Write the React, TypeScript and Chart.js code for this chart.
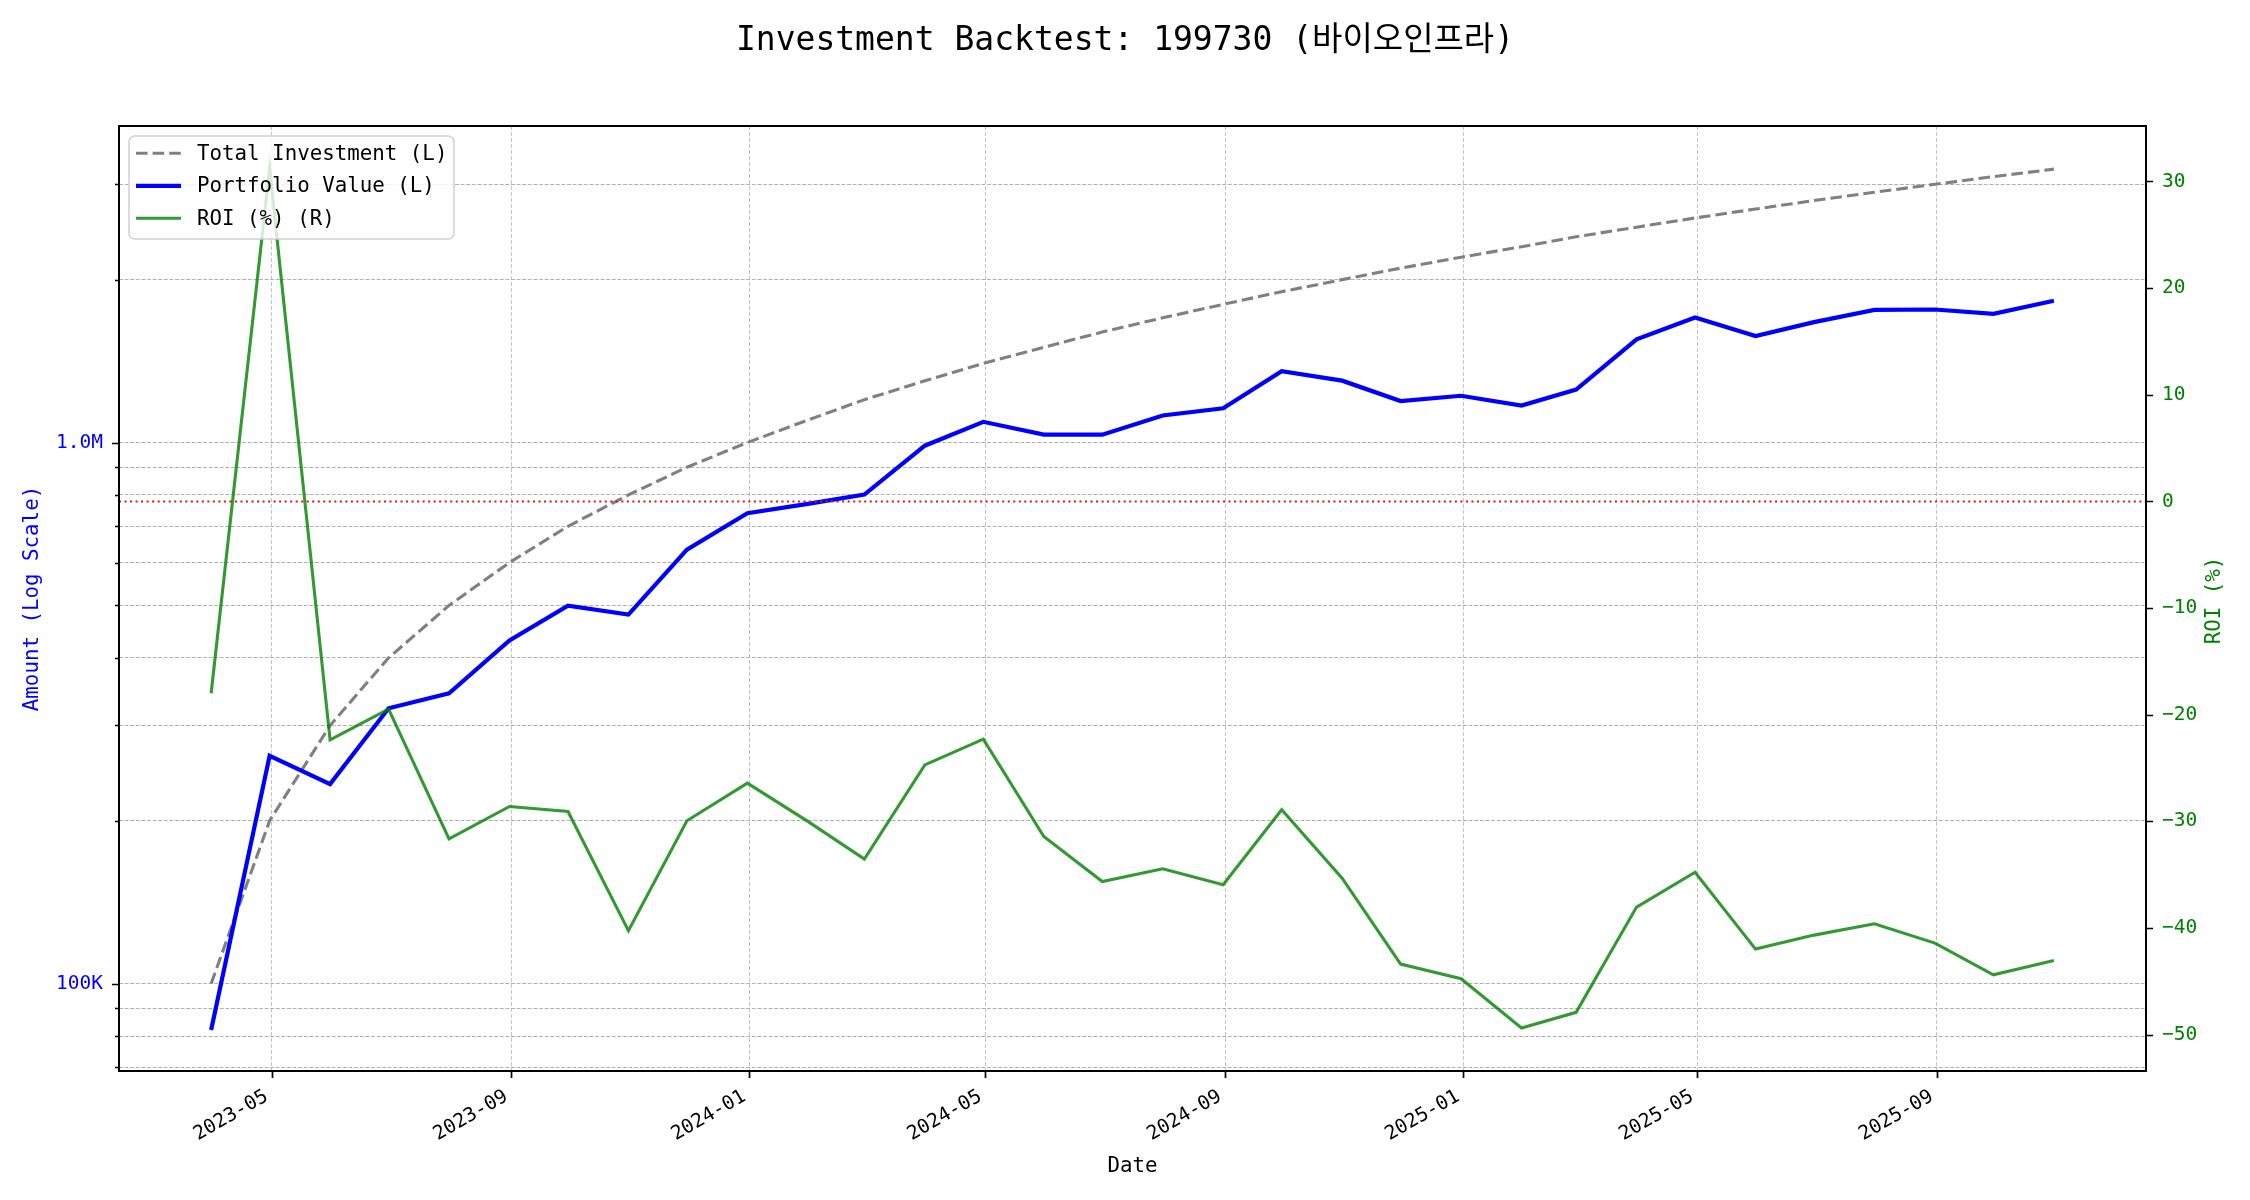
import React, { useEffect, useRef } from 'react';
import { Chart, registerables } from 'chart.js';

Chart.register(...registerables);

const FONT = '"DejaVu Sans Mono", "Noto Sans CJK KR", monospace';

const chartTitle = 'Investment Backtest: 199730 (바이오인프라)';
const xAxisTitle = 'Date';
const leftAxisTitle = 'Amount (Log Scale)';
const rightAxisTitle = 'ROI (%)';

const dates = [
  '2023-03-31', '2023-04-30', '2023-05-31', '2023-06-30', '2023-07-31', '2023-08-31',
  '2023-09-30', '2023-10-31', '2023-11-30', '2023-12-31', '2024-01-31', '2024-02-29',
  '2024-03-31', '2024-04-30', '2024-05-31', '2024-06-30', '2024-07-31', '2024-08-31',
  '2024-09-30', '2024-10-31', '2024-11-30', '2024-12-31', '2025-01-31', '2025-02-28',
  '2025-03-31', '2025-04-30', '2025-05-31', '2025-06-30', '2025-07-31', '2025-08-31',
  '2025-09-30', '2025-10-31',
];

const totalInvestment = [
  100000, 200000, 300000, 400000, 500000, 600000, 700000, 800000, 900000, 1000000,
  1100000, 1200000, 1300000, 1400000, 1500000, 1600000, 1700000, 1800000, 1900000, 2000000,
  2100000, 2200000, 2300000, 2400000, 2500000, 2600000, 2700000, 2800000, 2900000, 3000000,
  3100000, 3200000,
];

const portfolioValue = [
  82100, 263700, 233800, 322700, 344000, 430700, 499300, 480800, 634000, 740000,
  770000, 801400, 986500, 1092000, 1034000, 1034000, 1122000, 1157000, 1355000, 1301000,
  1193000, 1220000, 1170000, 1253000, 1551000, 1702000, 1573000, 1669000, 1758000, 1761000,
  1729000, 1828000,
];

const roiPercent = [
  -17.98, 31.2, -22.35, -19.48, -31.63, -28.6, -29.07, -40.25, -29.94, -26.41,
  -30.0, -33.53, -24.7, -22.29, -31.41, -35.63, -34.44, -35.94, -28.91, -35.32,
  -43.38, -44.75, -49.37, -47.9, -38.03, -34.76, -41.97, -40.66, -39.6, -41.41,
  -44.38, -43.04,
];

const xTickLabels = ['2023-05', '2023-09', '2024-01', '2024-05', '2024-09', '2025-01', '2025-05', '2025-09'];
const amountMajorTicks = [100000, 1000000];
const amountMajorLabels = ['100K', '1.0M'];
const amountMinorTicks = [
  70000, 80000, 90000, 200000, 300000, 400000, 500000, 600000, 700000, 800000, 900000,
  2000000, 3000000,
];
const roiTicks = [-50, -40, -30, -20, -10, 0, 10, 20, 30];
const roiTickLabels = ['−50', '−40', '−30', '−20', '−10', '0', '10', '20', '30'];

const seriesLabels = ['Total Investment (L)', 'Portfolio Value (L)', 'ROI (%) (R)'];

function toDay(s: string): number {
  const [y, m, d] = s.split('-').map(Number);
  return Date.UTC(y, m - 1, d) / 86400000;
}

export default function App() {
  const ref = useRef<HTMLCanvasElement>(null);

  useEffect(() => {
    document.body.style.margin = '0';
    const canvas = ref.current;
    if (!canvas) return;

    const xs = dates.map(toDay);
    const xSpan = xs[xs.length - 1] - xs[0];
    const xMin = xs[0] - xSpan * 0.05;
    const xMax = xs[xs.length - 1] + xSpan * 0.05;
    const xTickValues = xTickLabels.map((l) => toDay(l + '-01'));

    const decor = {
      id: 'decor',
      afterDatasetsDraw(chart: any) {
        const { ctx, chartArea: a, scales } = chart;
        // zero ROI line
        const y0 = scales.y1.getPixelForValue(0);
        ctx.save();
        ctx.strokeStyle = '#cc2020';
        ctx.lineWidth = 2.08;
        ctx.setLineDash([2.08, 3.44]);
        ctx.beginPath();
        ctx.moveTo(a.left, y0);
        ctx.lineTo(a.right, y0);
        ctx.stroke();
        ctx.restore();

        // legend
        const bx = a.left + 10;
        const by = a.top + 10;
        const bw = 325;
        const bh = 103;
        ctx.save();
        ctx.beginPath();
        if ((ctx as any).roundRect) (ctx as any).roundRect(bx, by, bw, bh, 6);
        else ctx.rect(bx, by, bw, bh);
        ctx.fillStyle = 'rgba(255,255,255,0.8)';
        ctx.fill();
        ctx.strokeStyle = 'rgba(204,204,204,0.9)';
        ctx.lineWidth = 1.5;
        ctx.stroke();
        chart.data.datasets.forEach((ds: any, i: number) => {
          const cy = by + 17.3 + i * 32.5;
          ctx.save();
          ctx.strokeStyle = ds.borderColor;
          ctx.lineWidth = ds.borderWidth;
          ctx.setLineDash(ds.borderDash || []);
          ctx.beginPath();
          ctx.moveTo(bx + 7, cy);
          ctx.lineTo(bx + 52, cy);
          ctx.stroke();
          ctx.restore();
          ctx.fillStyle = '#000';
          ctx.font = `20.8px ${FONT}`;
          ctx.textAlign = 'left';
          ctx.textBaseline = 'middle';
          ctx.fillText(ds.label, bx + 68, cy + 1);
        });
        ctx.restore();
      },
      afterDraw(chart: any) {
        const { ctx, chartArea: a, scales } = chart;
        ctx.save();
        // tick marks
        ctx.strokeStyle = '#000';
        ctx.lineWidth = 1.7;
        ctx.beginPath();
        amountMajorTicks.forEach((v) => {
          const y = Math.round(scales.y.getPixelForValue(v)) + 0.5;
          ctx.moveTo(a.left - 7, y);
          ctx.lineTo(a.left, y);
        });
        amountMinorTicks.forEach((v) => {
          const y = Math.round(scales.y.getPixelForValue(v)) + 0.5;
          ctx.moveTo(a.left - 4, y);
          ctx.lineTo(a.left, y);
        });
        roiTicks.forEach((v) => {
          const y = Math.round(scales.y1.getPixelForValue(v)) + 0.5;
          ctx.moveTo(a.right, y);
          ctx.lineTo(a.right + 7, y);
        });
        xTickValues.forEach((v) => {
          const x = Math.round(scales.x.getPixelForValue(v)) + 0.5;
          ctx.moveTo(x, a.bottom);
          ctx.lineTo(x, a.bottom + 7);
        });
        ctx.stroke();
        // frame
        ctx.lineWidth = 2;
        ctx.strokeRect(a.left, a.top, a.right - a.left, a.bottom - a.top);

        // title
        ctx.fillStyle = '#000';
        ctx.font = `33px ${FONT}`;
        ctx.textAlign = 'center';
        ctx.textBaseline = 'alphabetic';
        ctx.fillText(chartTitle, chart.width / 2, 50);

        // right axis title
        ctx.translate(2215, (a.top + a.bottom) / 2 + 2);
        ctx.rotate(-Math.PI / 2);
        ctx.fillStyle = 'green';
        ctx.font = `20.8px ${FONT}`;
        ctx.textAlign = 'center';
        ctx.textBaseline = 'middle';
        ctx.fillText(rightAxisTitle, 0, 0);
        ctx.restore();
      },
    };

    const chart = new Chart(canvas, {
      type: 'line',
      data: {
        datasets: [
          {
            label: seriesLabels[0],
            data: xs.map((x, i) => ({ x, y: totalInvestment[i] })),
            yAxisID: 'y',
            borderColor: '#808080',
            borderWidth: 3.1,
            borderDash: [11.6, 5],
            pointRadius: 0,
            fill: false,
            order: 3,
          },
          {
            label: seriesLabels[1],
            data: xs.map((x, i) => ({ x, y: portfolioValue[i] })),
            yAxisID: 'y',
            borderColor: '#0000ff',
            borderWidth: 4.2,
            pointRadius: 0,
            fill: false,
            order: 2,
          },
          {
            label: seriesLabels[2],
            data: xs.map((x, i) => ({ x, y: roiPercent[i] })),
            yAxisID: 'y1',
            borderColor: 'rgba(0,128,0,0.8)',
            borderWidth: 3.1,
            pointRadius: 0,
            fill: false,
            order: 1,
          },
        ] as any,
      },
      options: {
        responsive: false,
        animation: false,
        devicePixelRatio: 1,
        layout: { padding: { top: 126, left: 0, right: 0, bottom: 0 } },
        elements: { line: { tension: 0, borderCapStyle: 'butt', borderJoinStyle: 'miter' } },
        plugins: {
          legend: { display: false },
          title: { display: false },
          tooltip: { enabled: false },
        },
        scales: {
          x: {
            type: 'linear',
            position: 'bottom',
            min: xMin,
            max: xMax,
            bounds: 'data',
            afterBuildTicks: (s: any) => {
              s.ticks = xTickValues.map((v) => ({ value: v }));
            },
            afterFit: (s: any) => {
              s.height = 129;
            },
            ticks: {
              autoSkip: false,
              minRotation: 30,
              maxRotation: 30,
              padding: 14,
              labelOffset: -5,
              color: '#000',
              font: { family: FONT, size: 19.5 },
              callback: (_v: any, i: number) => xTickLabels[i],
            },
            grid: { color: '#c4c4c4', lineWidth: 1, drawTicks: false },
            border: { display: false, dash: [4, 2] },
            title: {
              display: true,
              text: xAxisTitle,
              color: '#000',
              font: { family: FONT, size: 20.8 },
              padding: { top: 0, bottom: 21 },
            },
          },
          y: {
            type: 'logarithmic',
            position: 'left',
            min: 68950,
            max: 3845000,
            bounds: 'data',
            afterBuildTicks: (s: any) => {
              s.ticks = [...amountMinorTicks, ...amountMajorTicks]
                .sort((p, q) => p - q)
                .map((v) => ({ value: v }));
            },
            afterFit: (s: any) => {
              s.width = 119;
            },
            ticks: {
              autoSkip: false,
              padding: 16,
              color: 'blue',
              font: { family: FONT, size: 19.5 },
              callback: (v: any) => {
                const k = amountMajorTicks.indexOf(Number(v));
                return k >= 0 ? amountMajorLabels[k] : '';
              },
            },
            grid: { color: '#b0b0b0', lineWidth: 1, drawTicks: false },
            border: { display: false, dash: [3.9, 1.7] },
            title: {
              display: true,
              text: leftAxisTitle,
              color: 'blue',
              font: { family: FONT, size: 20.8 },
              padding: { top: 20, bottom: 0 },
            },
          },
          y1: {
            type: 'linear',
            position: 'right',
            min: -53.4,
            max: 35.2,
            bounds: 'data',
            afterBuildTicks: (s: any) => {
              s.ticks = roiTicks.map((v) => ({ value: v }));
            },
            afterFit: (s: any) => {
              s.width = 104;
            },
            ticks: {
              autoSkip: false,
              padding: 16,
              color: 'green',
              font: { family: FONT, size: 19.5 },
              callback: (_v: any, i: number) => roiTickLabels[i],
            },
            grid: { drawOnChartArea: false, drawTicks: false },
            border: { display: false },
          },
        },
      } as any,
      plugins: [decor],
    });

    return () => chart.destroy();
  }, []);

  return (
    <div style={{ width: 2250, height: 1200 }}>
      <canvas ref={ref} width={2250} height={1200} style={{ display: 'block', width: 2250, height: 1200 }} />
    </div>
  );
}
